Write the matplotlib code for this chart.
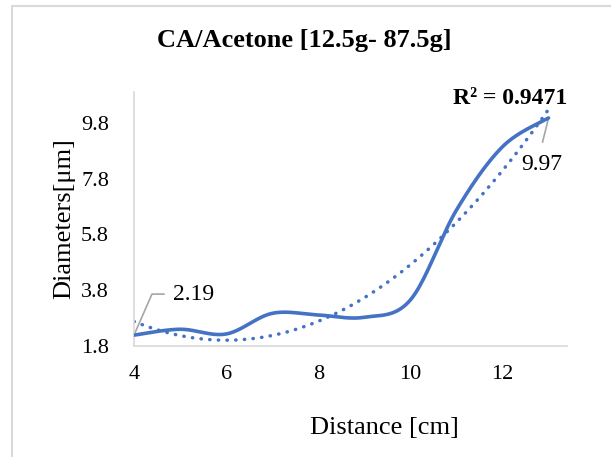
import numpy as np
import matplotlib
matplotlib.use("Agg")
import matplotlib.pyplot as plt
from matplotlib.patches import Rectangle

# data
distance = [4, 5, 6, 7, 8, 9, 10, 11, 12, 13]
diameter = [2.19, 2.40, 2.23, 2.97, 2.91, 2.83, 3.45, 6.67, 8.94, 9.97]
xticks = [4, 6, 8, 10, 12]
yticks = [1.8, 3.8, 5.8, 7.8, 9.8]
r2_text = "R² = 0.9471"

blue = "#4472C4"
gray = "#d9d9d9"
plt.rcParams['font.family'] = ['Liberation Serif', 'DejaVu Serif']


def excel_smooth(x, y, n=40):
    # bezier segments with catmull-rom style control points (like excel smoothed lines)
    x = np.asarray(x, float)
    y = np.asarray(y, float)
    px = np.concatenate([[x[0]], x, [x[-1]]])
    py = np.concatenate([[y[0]], y, [y[-1]]])
    xs, ys = [], []
    t = np.linspace(0, 1, n)
    for i in range(len(x) - 1):
        p0 = np.array([px[i + 1], py[i + 1]])
        p3 = np.array([px[i + 2], py[i + 2]])
        c1 = p0 + (p3 - np.array([px[i], py[i]])) / 6
        c2 = p3 - (np.array([px[i + 3], py[i + 3]]) - p0) / 6
        b = ((1 - t) ** 3)[:, None] * p0 + (3 * (1 - t) ** 2 * t)[:, None] * c1 \
            + (3 * (1 - t) * t ** 2)[:, None] * c2 + (t ** 3)[:, None] * p3
        xs.extend(b[:, 0])
        ys.extend(b[:, 1])
    return np.array(xs), np.array(ys)


fig = plt.figure(figsize=(6.11, 4.57), dpi=100)
ax = fig.add_axes([134 / 611, 1 - 346 / 457, (567 - 134) / 611, (346 - 92) / 457])

sx, sy = excel_smooth(distance, diameter)
ax.plot(sx, sy, color=blue, lw=2.6, solid_capstyle='round', zorder=3)

# polynomial trendline
coef = np.polyfit(distance, diameter, 2)
tx = np.linspace(distance[0], distance[-1], 200)
ax.plot(tx, np.polyval(coef, tx), color=blue, lw=2.5, linestyle=(0, (0.1, 2.4)),
        dash_capstyle='round', zorder=2)

ax.set_xlim(4, 13.4)
ax.set_ylim(1.8, 10.9)
ax.set_xticks(xticks)
ax.set_yticks(yticks)
ax.set_yticklabels([f"{v:.1f}" for v in yticks])
ax.tick_params(length=0, labelsize=16, pad=14)
ax.tick_params(axis='y', pad=18)
for s in ['top', 'right']:
    ax.spines[s].set_visible(False)
for s in ['left', 'bottom']:
    ax.spines[s].set_color(gray)
    ax.spines[s].set_linewidth(1.2)

ax.set_xlabel("Distance [cm]", fontsize=19, labelpad=22)
ax.xaxis.set_label_coords((384 - 134) / 433, -(428 - 346) / 254, transform=ax.transAxes)
ax.xaxis.label.set_va('center')
ax.set_ylabel("Diameters[μm]", fontsize=19, labelpad=4)
fig.text(304 / 611, 1 - 41 / 457, "CA/Acetone [12.5g- 87.5g]", fontsize=19,
         fontweight='bold', ha='center', va='center')

# data labels with leader lines
ax.plot([distance[0], distance[0] + 0.39, distance[0] + 0.65],
        [diameter[0], diameter[0] + 1.47, diameter[0] + 1.47], color='#a6a6a6', lw=1.2,
        clip_on=False)
ax.text(distance[0] + 0.85, diameter[0] + 1.47, f"{diameter[0]:.2f}", fontsize=17,
        va='center', ha='left')
ax.plot([distance[-1], distance[-1] - 0.13], [diameter[-1], diameter[-1] - 0.86],
        color='#a6a6a6', lw=1.2, clip_on=False)
ax.text(distance[-1] - 0.6, diameter[-1] - 1.65, f"{diameter[-1]:.2f}", fontsize=17,
        va='center', ha='left')
ax.text(1.0, 1 - (98 - 92) / (346 - 92), r2_text, transform=ax.transAxes, fontsize=17,
        fontweight='bold', ha='right', va='center')

fig.add_artist(Rectangle((12 / 611, -0.1), 1.2, 1 - 6 / 457 + 0.1, transform=fig.transFigure,
                         fill=False, ec=gray, lw=1.5))

fig.savefig("out.png", dpi=100)
